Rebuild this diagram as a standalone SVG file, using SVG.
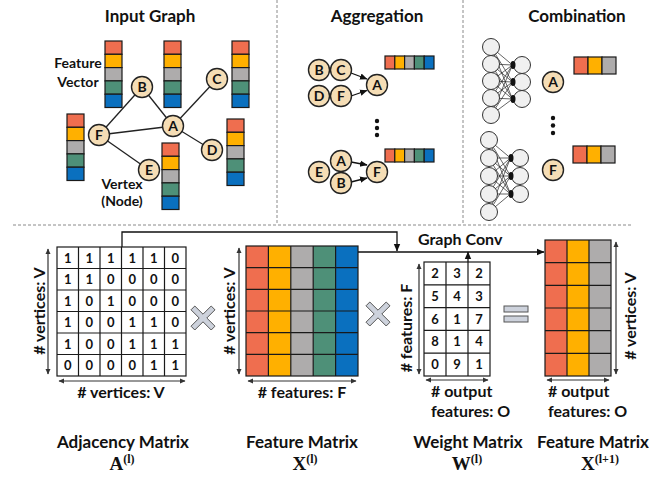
<svg xmlns="http://www.w3.org/2000/svg" width="669" height="479" viewBox="0 0 669 479">
<style>
.t{font-family:Lato,"Open Sans","Liberation Sans",sans-serif;font-weight:bold;fill:#111}
.ttl{font-size:17px;text-anchor:middle}
.lab{font-size:16px}
.mid{text-anchor:middle}
.nl{font-size:14px;text-anchor:middle}
.num{font-size:13px;text-anchor:middle}
.m{font-family:"Liberation Serif","Times New Roman",serif;font-weight:bold;fill:#111;text-anchor:middle}
.nd{fill:#F5DDB5;stroke:#222;stroke-width:1.4}
.c1{fill:#EF6E4F}.c2{fill:#FFB000}.c3{fill:#AEACAC}.c4{fill:#4E9078}.c5{fill:#0A70BF}
.cell{stroke:#1a1a1a;stroke-width:1.2}
.grid{stroke:#1a1a1a;stroke-width:1.2;fill:none}
.edge{stroke:#222;stroke-width:1.3;fill:none}
.dash{stroke:#8a8a8a;stroke-width:1;stroke-dasharray:3,2;fill:none}
.dim{stroke:#333;stroke-width:1.2;fill:none;marker-start:url(#dh);marker-end:url(#dh)}
.flow{stroke:#111;stroke-width:1.3;fill:none}
.nn{fill:#F0F0F0;stroke:#333;stroke-width:1}
.nw{stroke:#222;stroke-width:0.7}
.op{fill:#CDD2DC;stroke:#555;stroke-width:1}
</style>
<defs>
<marker id="ah" markerWidth="8" markerHeight="8" refX="7" refY="4" orient="auto" markerUnits="userSpaceOnUse"><path d="M0,0.8 L7.5,4 L0,7.2 z" fill="#111"/></marker>
<marker id="dh" markerWidth="6" markerHeight="6" refX="5" refY="3" orient="auto-start-reverse" markerUnits="userSpaceOnUse"><path d="M0,0.5 L5.5,3 L0,5.5 z" fill="#333"/></marker>
<g id="vvec">
<rect class="c1 cell" x="0" y="0" width="17" height="13.3"/>
<rect class="c2 cell" x="0" y="13.3" width="17" height="13.3"/>
<rect class="c3 cell" x="0" y="26.6" width="17" height="13.3"/>
<rect class="c4 cell" x="0" y="39.9" width="17" height="13.3"/>
<rect class="c5 cell" x="0" y="53.2" width="17" height="13.3"/>
</g>
<g id="hvec">
<rect class="c1 cell" x="0" y="0" width="9.8" height="13"/>
<rect class="c2 cell" x="9.8" y="0" width="9.8" height="13"/>
<rect class="c3 cell" x="19.6" y="0" width="9.8" height="13"/>
<rect class="c4 cell" x="29.4" y="0" width="9.8" height="13"/>
<rect class="c5 cell" x="39.2" y="0" width="9.8" height="13"/>
</g>
<g id="ovec">
<rect class="c1 cell" x="0" y="0" width="14" height="17"/>
<rect class="c2 cell" x="14" y="0" width="14" height="17"/>
<rect class="c3 cell" x="28" y="0" width="14" height="17"/>
</g>
<polygon id="xs" class="op" points="-12,-8.2 -8.2,-12 0,-3.8 8.2,-12 12,-8.2 3.8,0 12,8.2 8.2,12 0,3.8 -8.2,12 -12,8.2 -3.8,0"/>
</defs>

<g id="separators">
<line class="dash" x1="277" y1="0" x2="277" y2="225"/>
<line class="dash" x1="463" y1="0" x2="463" y2="225"/>
<line class="dash" x1="13" y1="225" x2="633" y2="225"/>
</g>

<text class="t ttl" x="150" y="22">Input Graph</text>
<text class="t ttl" x="377" y="22">Aggregation</text>
<text class="t ttl" x="577" y="22">Combination</text>

<g id="graph-edges">
<line class="edge" x1="99" y1="135" x2="142" y2="87"/>
<line class="edge" x1="142" y1="87" x2="173" y2="126"/>
<line class="edge" x1="173" y1="126" x2="217" y2="79"/>
<line class="edge" x1="99" y1="135" x2="173" y2="126"/>
<line class="edge" x1="173" y1="126" x2="212" y2="150"/>
<line class="edge" x1="99" y1="135" x2="149" y2="170"/>
</g>
<g id="fv1"><use href="#vvec" x="105" y="41"/></g>
<g id="fv2"><use href="#vvec" x="164" y="41"/></g>
<g id="fv3"><use href="#vvec" x="232" y="41"/></g>
<g id="fv4"><use href="#vvec" x="67" y="114"/></g>
<g id="fv5"><use href="#vvec" x="162" y="143"/></g>
<g id="fv6"><use href="#vvec" x="227" y="119"/></g>
<g id="nB"><circle class="nd" cx="142" cy="87" r="10.5"/><text class="t nl" x="142" y="92">B</text></g>
<g id="nC"><circle class="nd" cx="217" cy="79" r="10.5"/><text class="t nl" x="217" y="84">C</text></g>
<g id="nA"><circle class="nd" cx="173" cy="126" r="10.5"/><text class="t nl" x="173" y="131">A</text></g>
<g id="nF"><circle class="nd" cx="99" cy="135" r="10.5"/><text class="t nl" x="99" y="140">F</text></g>
<g id="nD"><circle class="nd" cx="212" cy="150" r="10.5"/><text class="t nl" x="212" y="155">D</text></g>
<g id="nE"><circle class="nd" cx="149" cy="170" r="10.5"/><text class="t nl" x="149" y="175">E</text></g>
<text class="t mid" style="font-size:14px" x="78" y="68">Feature</text>
<text class="t mid" style="font-size:14px" x="78" y="87">Vector</text>
<text class="t mid" style="font-size:14px" x="122" y="189">Vertex</text>
<text class="t mid" style="font-size:14px" x="122" y="206">(Node)</text>

<g id="agg-arrows">
<line class="flow" marker-end="url(#ah)" x1="351" y1="73" x2="367" y2="79"/>
<line class="flow" marker-end="url(#ah)" x1="351" y1="96" x2="367" y2="90.5"/>
<line class="flow" marker-end="url(#ah)" x1="351" y1="162" x2="367" y2="165"/>
<line class="flow" marker-end="url(#ah)" x1="351" y1="182" x2="367" y2="178"/>
</g>
<g id="aB"><circle class="nd" cx="319" cy="70" r="10.5"/><text class="t nl" x="319" y="75">B</text></g>
<g id="aC"><circle class="nd" cx="341" cy="70" r="10.5"/><text class="t nl" x="341" y="75">C</text></g>
<g id="aD"><circle class="nd" cx="319" cy="96" r="10.5"/><text class="t nl" x="319" y="101">D</text></g>
<g id="aF"><circle class="nd" cx="341" cy="96" r="10.5"/><text class="t nl" x="341" y="101">F</text></g>
<g id="aA"><circle class="nd" cx="377" cy="85" r="10.5"/><text class="t nl" x="377" y="90">A</text></g>
<g id="aVec1"><use href="#hvec" x="385" y="56"/></g>
<g id="aDots"><circle cx="377" cy="121" r="2.2" fill="#111"/><circle cx="377" cy="128" r="2.2" fill="#111"/><circle cx="377" cy="135" r="2.2" fill="#111"/></g>
<g id="bA"><circle class="nd" cx="341" cy="161" r="10.5"/><text class="t nl" x="341" y="166">A</text></g>
<g id="bE"><circle class="nd" cx="319" cy="172" r="10.5"/><text class="t nl" x="319" y="177">E</text></g>
<g id="bB"><circle class="nd" cx="341" cy="183" r="10.5"/><text class="t nl" x="341" y="188">B</text></g>
<g id="bF"><circle class="nd" cx="377" cy="172" r="10.5"/><text class="t nl" x="377" y="177">F</text></g>
<g id="aVec2"><use href="#hvec" x="385" y="149"/></g>

<g id="net1">
<g class="nw">
<line x1="491" y1="47" x2="512.5" y2="65"/><line x1="491" y1="47" x2="512.5" y2="82"/><line x1="491" y1="47" x2="512.5" y2="99"/>
<line x1="491" y1="64" x2="512.5" y2="65"/><line x1="491" y1="64" x2="512.5" y2="82"/><line x1="491" y1="64" x2="512.5" y2="99"/>
<line x1="491" y1="81" x2="512.5" y2="65"/><line x1="491" y1="81" x2="512.5" y2="82"/><line x1="491" y1="81" x2="512.5" y2="99"/>
<line x1="491" y1="98" x2="512.5" y2="65"/><line x1="491" y1="98" x2="512.5" y2="82"/><line x1="491" y1="98" x2="512.5" y2="99"/>
<line x1="491" y1="115" x2="512.5" y2="65"/><line x1="491" y1="115" x2="512.5" y2="82"/><line x1="491" y1="115" x2="512.5" y2="99"/>
</g>
<circle class="nn" cx="491" cy="47" r="8.5"/><circle class="nn" cx="491" cy="64" r="8.5"/><circle class="nn" cx="491" cy="81" r="8.5"/><circle class="nn" cx="491" cy="98" r="8.5"/><circle class="nn" cx="491" cy="115" r="8.5"/>
<circle class="nn" cx="522" cy="65" r="8.5"/><circle class="nn" cx="522" cy="82" r="8.5"/><circle class="nn" cx="522" cy="99" r="8.5"/>
<ellipse cx="513" cy="65" rx="2.5" ry="4" fill="#111"/><ellipse cx="513" cy="82" rx="2.5" ry="4" fill="#111"/><ellipse cx="513" cy="99" rx="2.5" ry="4" fill="#111"/>
</g>
<g id="net2">
<g class="nw">
<line x1="489" y1="140" x2="510.5" y2="158"/><line x1="489" y1="140" x2="510.5" y2="176"/><line x1="489" y1="140" x2="510.5" y2="194"/>
<line x1="489" y1="158" x2="510.5" y2="158"/><line x1="489" y1="158" x2="510.5" y2="176"/><line x1="489" y1="158" x2="510.5" y2="194"/>
<line x1="489" y1="176" x2="510.5" y2="158"/><line x1="489" y1="176" x2="510.5" y2="176"/><line x1="489" y1="176" x2="510.5" y2="194"/>
<line x1="489" y1="194" x2="510.5" y2="158"/><line x1="489" y1="194" x2="510.5" y2="176"/><line x1="489" y1="194" x2="510.5" y2="194"/>
<line x1="489" y1="212" x2="510.5" y2="158"/><line x1="489" y1="212" x2="510.5" y2="176"/><line x1="489" y1="212" x2="510.5" y2="194"/>
</g>
<circle class="nn" cx="489" cy="140" r="8.5"/><circle class="nn" cx="489" cy="158" r="8.5"/><circle class="nn" cx="489" cy="176" r="8.5"/><circle class="nn" cx="489" cy="194" r="8.5"/><circle class="nn" cx="489" cy="212" r="8.5"/>
<circle class="nn" cx="520" cy="158" r="8.5"/><circle class="nn" cx="520" cy="176" r="8.5"/><circle class="nn" cx="520" cy="194" r="8.5"/>
<ellipse cx="511" cy="158" rx="2.5" ry="4" fill="#111"/><ellipse cx="511" cy="176" rx="2.5" ry="4" fill="#111"/><ellipse cx="511" cy="194" rx="2.5" ry="4" fill="#111"/>
</g>
<g id="cA"><circle class="nd" cx="553" cy="82" r="10.5"/><text class="t nl" x="553" y="87">A</text></g>
<g id="cF"><circle class="nd" cx="553" cy="170" r="10.5"/><text class="t nl" x="553" y="175">F</text></g>
<g id="cVec1"><use href="#ovec" x="574" y="57"/></g>
<g id="cVec2"><use href="#ovec" x="573" y="146"/></g>
<g id="cDots"><circle cx="553" cy="118" r="2.2" fill="#111"/><circle cx="553" cy="125.5" r="2.2" fill="#111"/><circle cx="553" cy="133" r="2.2" fill="#111"/></g>

<g id="connectors">
<path class="flow" marker-end="url(#ah)" d="M122,247 V232 H397 V251"/>
<line class="flow" marker-end="url(#ah)" x1="358" y1="252" x2="544" y2="252"/>
<line class="flow" marker-end="url(#ah)" x1="468" y1="262" x2="468" y2="252"/>
</g>
<text class="t lab" x="418" y="245">Graph Conv</text>

<g id="adjacency">
<rect x="57" y="247" width="129" height="129" fill="#fff" class="grid"/>
<path class="grid" d="M78.5,247V376M100,247V376M121.5,247V376M143,247V376M164.5,247V376M57,268.5H186M57,290H186M57,311.5H186M57,333H186M57,354.5H186"/>
<g class="t num">
<text x="67.75" y="262.5">1</text><text x="89.25" y="262.5">1</text><text x="110.75" y="262.5">1</text><text x="132.25" y="262.5">1</text><text x="153.75" y="262.5">1</text><text x="175.25" y="262.5">0</text>
<text x="67.75" y="284">1</text><text x="89.25" y="284">1</text><text x="110.75" y="284">0</text><text x="132.25" y="284">0</text><text x="153.75" y="284">0</text><text x="175.25" y="284">0</text>
<text x="67.75" y="305.5">1</text><text x="89.25" y="305.5">0</text><text x="110.75" y="305.5">1</text><text x="132.25" y="305.5">0</text><text x="153.75" y="305.5">0</text><text x="175.25" y="305.5">0</text>
<text x="67.75" y="327">1</text><text x="89.25" y="327">0</text><text x="110.75" y="327">0</text><text x="132.25" y="327">1</text><text x="153.75" y="327">1</text><text x="175.25" y="327">0</text>
<text x="67.75" y="348.5">1</text><text x="89.25" y="348.5">0</text><text x="110.75" y="348.5">0</text><text x="132.25" y="348.5">1</text><text x="153.75" y="348.5">1</text><text x="175.25" y="348.5">1</text>
<text x="67.75" y="370">0</text><text x="89.25" y="370">0</text><text x="110.75" y="370">0</text><text x="132.25" y="370">0</text><text x="153.75" y="370">1</text><text x="175.25" y="370">1</text>
</g>
<line class="dim" x1="48" y1="249" x2="48" y2="374"/>
<line class="dim" x1="59" y1="381" x2="185" y2="381"/>
<text class="t lab mid" transform="translate(45,311) rotate(-90)"># vertices: V</text>
<text class="t lab mid" x="121" y="398"># vertices: V</text>
</g>

<use href="#xs" x="203" y="318"/>

<g id="feature-in">
<rect class="c1" x="246" y="246" width="22.4" height="130"/>
<rect class="c2" x="268.4" y="246" width="22.4" height="130"/>
<rect class="c3" x="290.8" y="246" width="22.4" height="130"/>
<rect class="c4" x="313.2" y="246" width="22.4" height="130"/>
<rect class="c5" x="335.6" y="246" width="22.4" height="130"/>
<rect class="grid" x="246" y="246" width="112" height="130"/>
<path class="grid" d="M268.4,246V376M290.8,246V376M313.2,246V376M335.6,246V376M246,267.67H358M246,289.33H358M246,311H358M246,332.67H358M246,354.33H358"/>
<line class="dim" x1="239" y1="248" x2="239" y2="374"/>
<line class="dim" x1="248" y1="381" x2="356" y2="381"/>
<text class="t lab mid" transform="translate(235,311) rotate(-90)"># vertices: V</text>
<text class="t lab mid" x="302" y="398"># features: F</text>
</g>

<use href="#xs" x="378" y="314"/>

<g id="weight">
<rect x="424" y="262" width="66" height="114" fill="#fff" class="grid"/>
<path class="grid" d="M446,262V376M468,262V376M424,284.8H490M424,307.6H490M424,330.4H490M424,353.2H490"/>
<g class="t num">
<text x="435" y="278">2</text><text x="457" y="278">3</text><text x="479" y="278">2</text>
<text x="435" y="300.8">5</text><text x="457" y="300.8">4</text><text x="479" y="300.8">3</text>
<text x="435" y="323.6">6</text><text x="457" y="323.6">1</text><text x="479" y="323.6">7</text>
<text x="435" y="346.4">8</text><text x="457" y="346.4">1</text><text x="479" y="346.4">4</text>
<text x="435" y="369.2">0</text><text x="457" y="369.2">9</text><text x="479" y="369.2">1</text>
</g>
<line class="dim" x1="419" y1="264" x2="419" y2="374"/>
<line class="dim" x1="426" y1="380" x2="488" y2="380"/>
<text class="t lab mid" transform="translate(412,328) rotate(-90)"># features: F</text>
<text class="t lab" x="431" y="397"># output</text>
<text class="t lab" x="431" y="417">features: O</text>
</g>

<g id="equals">
<rect class="op" x="504" y="306" width="24" height="6"/>
<rect class="op" x="504" y="316" width="24" height="6"/>
</g>

<g id="feature-out">
<rect class="c1" x="545" y="240" width="22" height="136"/>
<rect class="c2" x="567" y="240" width="22" height="136"/>
<rect class="c3" x="589" y="240" width="22" height="136"/>
<rect class="grid" x="545" y="240" width="66" height="136"/>
<path class="grid" d="M567,240V376M589,240V376M545,262.67H611M545,285.33H611M545,308H611M545,330.67H611M545,353.33H611"/>
<line class="dim" x1="616" y1="242" x2="616" y2="374"/>
<line class="dim" x1="547" y1="380" x2="609" y2="380"/>
<text class="t lab mid" transform="translate(636,316) rotate(-90)"># vertices: V</text>
<text class="t lab" x="548" y="397"># output</text>
<text class="t lab" x="548" y="417">features: O</text>
</g>

<g id="labels">
<text class="t ttl" x="123" y="448">Adjacency Matrix</text>
<text class="t ttl" x="302" y="448">Feature Matrix</text>
<text class="t ttl" x="468" y="448">Weight Matrix</text>
<text class="t ttl" x="593" y="448">Feature Matrix</text>
<text class="m" x="122" y="470" style="font-size:19px">A<tspan style="font-size:12px" dy="-7">(l)</tspan></text>
<text class="m" x="305" y="470" style="font-size:19px">X<tspan style="font-size:12px" dy="-7">(l)</tspan></text>
<text class="m" x="467" y="470" style="font-size:19px">W<tspan style="font-size:12px" dy="-7">(l)</tspan></text>
<text class="m" x="600" y="470" style="font-size:19px">X<tspan style="font-size:12px" dy="-7">(l+1)</tspan></text>
</g>
</svg>
